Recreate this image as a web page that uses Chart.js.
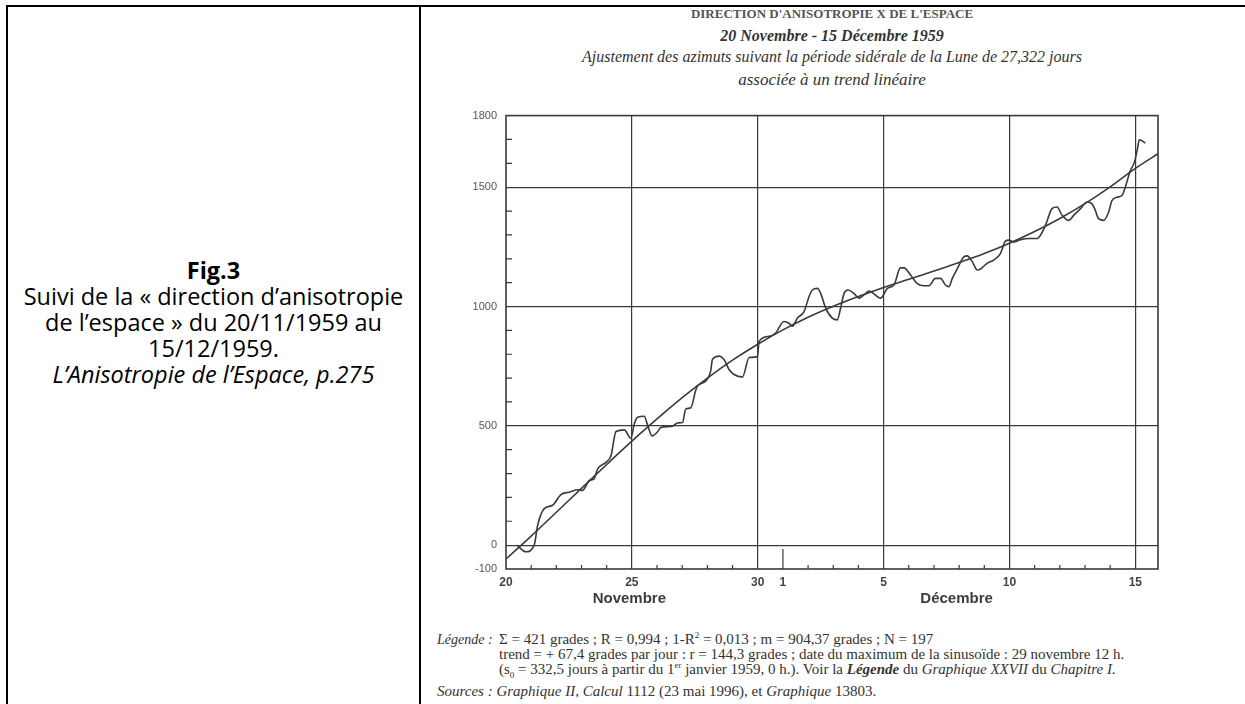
<!DOCTYPE html>
<html>
<head>
<meta charset="utf-8">
<script src="https://cdn.jsdelivr.net/npm/chart.js@4.4.0/dist/chart.umd.min.js"></script>
<style>
  body { margin: 0; background: #fff; width: 1245px; height: 704px; overflow: hidden; position: relative; }
  .rule { position: absolute; background: #000; }
  #caption { position: absolute; left: 8px; top: 257px; width: 411px; text-align: center;
             font-family: "Open Sans", sans-serif; font-size: 23.5px; line-height: 26px; color: #000; }
  .title { position: absolute; left: 432px; width: 800px; text-align: center; color: #333;
           font-family: "Liberation Serif", serif; white-space: nowrap; }
  #legend { position: absolute; left: 437px; top: 632px; font-family: "Liberation Serif", serif;
            font-size: 15px; color: #333; line-height: 15px; white-space: nowrap; }
  #legend .lab { display: inline-block; width: 62px; font-size: 14px; }
  #legend .ind { padding-left: 62px; }
  sup, sub { font-size: 9px; line-height: 0; }
  #chartBox { position: absolute; left: 430px; top: 100px; }
</style>
</head>
<body>
<div class="rule" style="left:6px; top:5px; width:1239px; height:2px;"></div>
<div class="rule" style="left:6px; top:5px; width:2px; height:699px;"></div>
<div class="rule" style="left:419px; top:5px; width:2px; height:699px;"></div>

<div id="caption">
  <b>Fig.3</b><br>
  Suivi de la « direction d’anisotropie<br>
  de l’espace » du 20/11/1959 au<br>
  15/12/1959.<br>
  <i>L’Anisotropie de l’Espace, p.275</i>
</div>

<div class="title" style="top:6px; font-size:13px; font-weight:bold; color:#555;">DIRECTION D'ANISOTROPIE X DE L'ESPACE</div>
<div class="title" style="top:27px; font-size:16px; font-style:italic; font-weight:bold;">20 Novembre - 15 Décembre 1959</div>
<div class="title" style="top:48px; font-size:16px; font-style:italic;">Ajustement des azimuts suivant la période sidérale de la Lune de 27,322 jours</div>
<div class="title" style="top:70px; font-size:17px; font-style:italic;">associée à un trend linéaire</div>

<div id="chartBox"><canvas id="chart" width="760" height="520"></canvas></div>

<div id="legend">
  <div><i class="lab">Légende :</i>Σ = 421 grades ; R = 0,994 ; 1-R<sup>2</sup> = 0,013 ; m = 904,37 grades ; N = 197</div>
  <div class="ind">trend = + 67,4 grades par jour : r = 144,3 grades ; date du maximum de la sinusoïde : 29 novembre 12 h.</div>
  <div class="ind">(s<sub>0</sub> = 332,5 jours à partir du 1<sup>er</sup> janvier 1959, 0 h.). Voir la <b><i>Légende</i></b> du <i>Graphique XXVII</i> du <i>Chapitre I.</i></div>
  <div style="margin-top:7px;"><i>Sources : Graphique II, Calcul</i> 1112 (23 mai 1996), et <i>Graphique</i> 13803.</div>
</div>

<script>
// days counted from 20 November 1959 (0 = 20 nov, 11 = 1 dec, 25 = 15 dec)
const obsDays = [
    0.44, 0.79, 1.12, 1.26, 1.52, 1.85, 2.18, 2.51, 2.85, 3.04, 3.31, 3.5, 3.64, 3.97, 4.17,
    4.37, 4.7, 4.96, 5.1, 5.23, 5.49, 5.62, 5.8, 6.02, 6.15, 6.61, 6.81, 7.01, 7.14, 7.34,
    7.54, 7.61, 7.94, 8.13, 8.2, 8.47, 8.66, 8.86, 9.06, 9.39, 9.66, 9.99, 10.05, 10.45, 10.71,
    11.04, 11.24, 11.38, 11.57, 11.84, 12.04, 12.17, 12.37, 12.5, 12.7, 12.96, 13.16, 13.29, 13.43, 13.59,
    13.82, 14.02, 14.22, 14.42, 14.75, 14.88, 15.15, 15.41, 15.67, 15.81, 16.07, 16.33, 16.6, 16.8, 17.06,
    17.26, 17.46, 17.59, 17.73, 17.92, 18.19, 18.32, 18.52, 18.72, 18.85, 19.11, 19.37, 19.64, 19.84, 19.97,
    20.17, 20.44, 20.77, 21.1, 21.23, 21.43, 21.69, 21.89, 22.09, 22.35, 22.55, 22.82, 23.08, 23.28, 23.41,
    23.54, 23.74, 23.94, 24.07, 24.27, 24.47, 24.6, 24.8, 24.96, 25.07, 25.16, 25.27, 25.4
];
const obsValues = [
    0, -28, 0, 85, 153, 167, 212, 222, 232, 229, 271, 278, 320, 347, 375,
    476, 483, 448, 510, 536, 540, 505, 458, 475, 493, 498, 512, 514, 570, 576,
    650, 667, 688, 729, 778, 792, 778, 736, 715, 704, 786, 790, 854, 875, 889,
    937, 930, 917, 951, 979, 1042, 1069, 1076, 1055, 993, 951, 944, 993, 1055, 1069,
    1055, 1035, 1049, 1065, 1042, 1035, 1076, 1090, 1162, 1162, 1132, 1097, 1087, 1087, 1118,
    1118, 1090, 1083, 1118, 1157, 1208, 1212, 1188, 1153, 1157, 1181, 1194, 1222, 1274, 1278,
    1271, 1280, 1285, 1285, 1299, 1340, 1410, 1417, 1382, 1361, 1382, 1410, 1438, 1430, 1403,
    1368, 1361, 1396, 1444, 1458, 1465, 1500, 1569, 1604, 1653, 1699, 1694, 1685
];
const fitDays = [0, 1, 2, 3, 4, 5, 6, 7, 8, 9, 10, 11, 12, 13, 14, 15, 16, 17, 18, 19, 20, 21, 22, 23, 24, 25, 25.9];
const fitValues = [-58, 38, 138, 238, 338, 436, 529, 618, 700, 775, 842, 902, 955, 1001, 1042, 1080, 1114, 1149, 1184, 1222, 1265, 1314, 1369, 1431, 1501, 1579, 1640];

const dayTickValues = [0, 1, 2, 3, 4, 5, 6, 7, 8, 9, 10, 11, 12, 13, 14, 15, 16, 17, 18, 19, 20, 21, 22, 23, 24, 25];
const dayLabelValues = [0, 5, 10, 11, 15, 20, 25];
const dayLabels = ['20', '25', '30', '1', '5', '10', '15'];
const dayGridValues = [5, 10, 15, 20, 25];
const monthLabels = ['Novembre', 'Décembre'];
const monthCenters = [4.9, 17.9];
const monthStart = 11;

const yTickValues = [-100, 0, 100, 200, 300, 400, 500, 600, 700, 800, 900, 1000, 1100, 1200, 1300, 1400, 1500, 1600, 1700, 1800];
const yLabelValues = [-100, 0, 500, 1000, 1500, 1800];
const yGridValues = [0, 500, 1000, 1500];

const ink = '#3a3a3a';

const framePlugin = {
    id: 'frame',
    beforeDatasetsDraw(chart) {
        const { ctx, chartArea: a, scales: { x, y } } = chart;
        ctx.save();
        ctx.strokeStyle = ink;
        ctx.lineWidth = 1.6;
        ctx.strokeRect(a.left, a.top, a.right - a.left, a.bottom - a.top);

        ctx.lineWidth = 1.2;
        ctx.beginPath();
        dayTickValues.forEach(v => {
            if (dayGridValues.includes(v) || v === 0) return;
            const px = x.getPixelForValue(v);
            const len = v === monthStart ? 20 : 4;
            ctx.moveTo(px, a.bottom);
            ctx.lineTo(px, a.bottom - len);
        });
        yTickValues.forEach(v => {
            if (yGridValues.includes(v) || yLabelValues.includes(v)) return;
            const py = y.getPixelForValue(v);
            ctx.moveTo(a.left, py);
            ctx.lineTo(a.left + 6, py);
        });
        ctx.stroke();
        ctx.restore();
    },
    afterDraw(chart) {
        const { ctx, chartArea: a, scales: { x } } = chart;
        ctx.save();
        ctx.fillStyle = '#3c3c3c';
        ctx.font = 'bold 15px "Liberation Sans", Arial, sans-serif';
        ctx.textAlign = 'center';
        ctx.textBaseline = 'middle';
        monthLabels.forEach((m, i) => {
            ctx.fillText(m, x.getPixelForValue(monthCenters[i]), a.bottom + 30);
        });
        ctx.restore();
    }
};

const ctx = document.getElementById('chart').getContext('2d');
const chart = new Chart(ctx, {
    type: 'line',
    data: {
        datasets: [{
            label: 'Azimuts',
            data: obsDays.map((d, i) => ({ x: d, y: obsValues[i] })),
            borderColor: ink,
            borderWidth: 1.6,
            pointRadius: 0,
            cubicInterpolationMode: 'monotone',
            fill: false
        }, {
            label: 'Ajustement',
            data: fitDays.map((d, i) => ({ x: d, y: fitValues[i] })),
            borderColor: ink,
            borderWidth: 1.6,
            pointRadius: 0,
            tension: 0.4,
            fill: false
        }]
    },
    options: {
        responsive: false,
        animation: false,
        devicePixelRatio: 1,
        layout: { padding: { top: 13, right: 32, left: 0, bottom: 0 } },
        plugins: {
            legend: { display: false },
            tooltip: { enabled: false }
        },
        scales: {
            x: {
                type: 'linear',
                min: 0,
                max: 25.9,
                afterBuildTicks: scale => {
                    scale.ticks = dayTickValues.map(v => ({ value: v }));
                },
                afterFit: scale => { scale.height = 51; },
                border: { display: false },
                grid: {
                    drawTicks: false,
                    lineWidth: 1.2,
                    color: c => dayGridValues.includes(c.tick && c.tick.value) ? ink : 'rgba(0,0,0,0)'
                },
                ticks: {
                    autoSkip: false,
                    maxRotation: 0,
                    padding: 6,
                    color: '#444',
                    font: { family: '"Liberation Sans", Arial, sans-serif', size: 12, weight: 'bold' },
                    callback: v => {
                        const i = dayLabelValues.indexOf(v);
                        return i >= 0 ? dayLabels[i] : '';
                    }
                }
            },
            y: {
                min: -100,
                max: 1800,
                afterBuildTicks: scale => {
                    scale.ticks = yTickValues.map(v => ({ value: v }));
                },
                afterFit: scale => { scale.width = 76; },
                border: { display: false },
                grid: {
                    drawTicks: false,
                    lineWidth: 1.2,
                    color: c => yGridValues.includes(c.tick && c.tick.value) ? ink : 'rgba(0,0,0,0)'
                },
                ticks: {
                    autoSkip: false,
                    padding: 9,
                    color: '#555',
                    font: { family: '"Liberation Sans", Arial, sans-serif', size: 11 },
                    callback: v => yLabelValues.includes(v) ? String(v) : ''
                }
            }
        }
    },
    plugins: [framePlugin]
});
</script>
</body>
</html>
